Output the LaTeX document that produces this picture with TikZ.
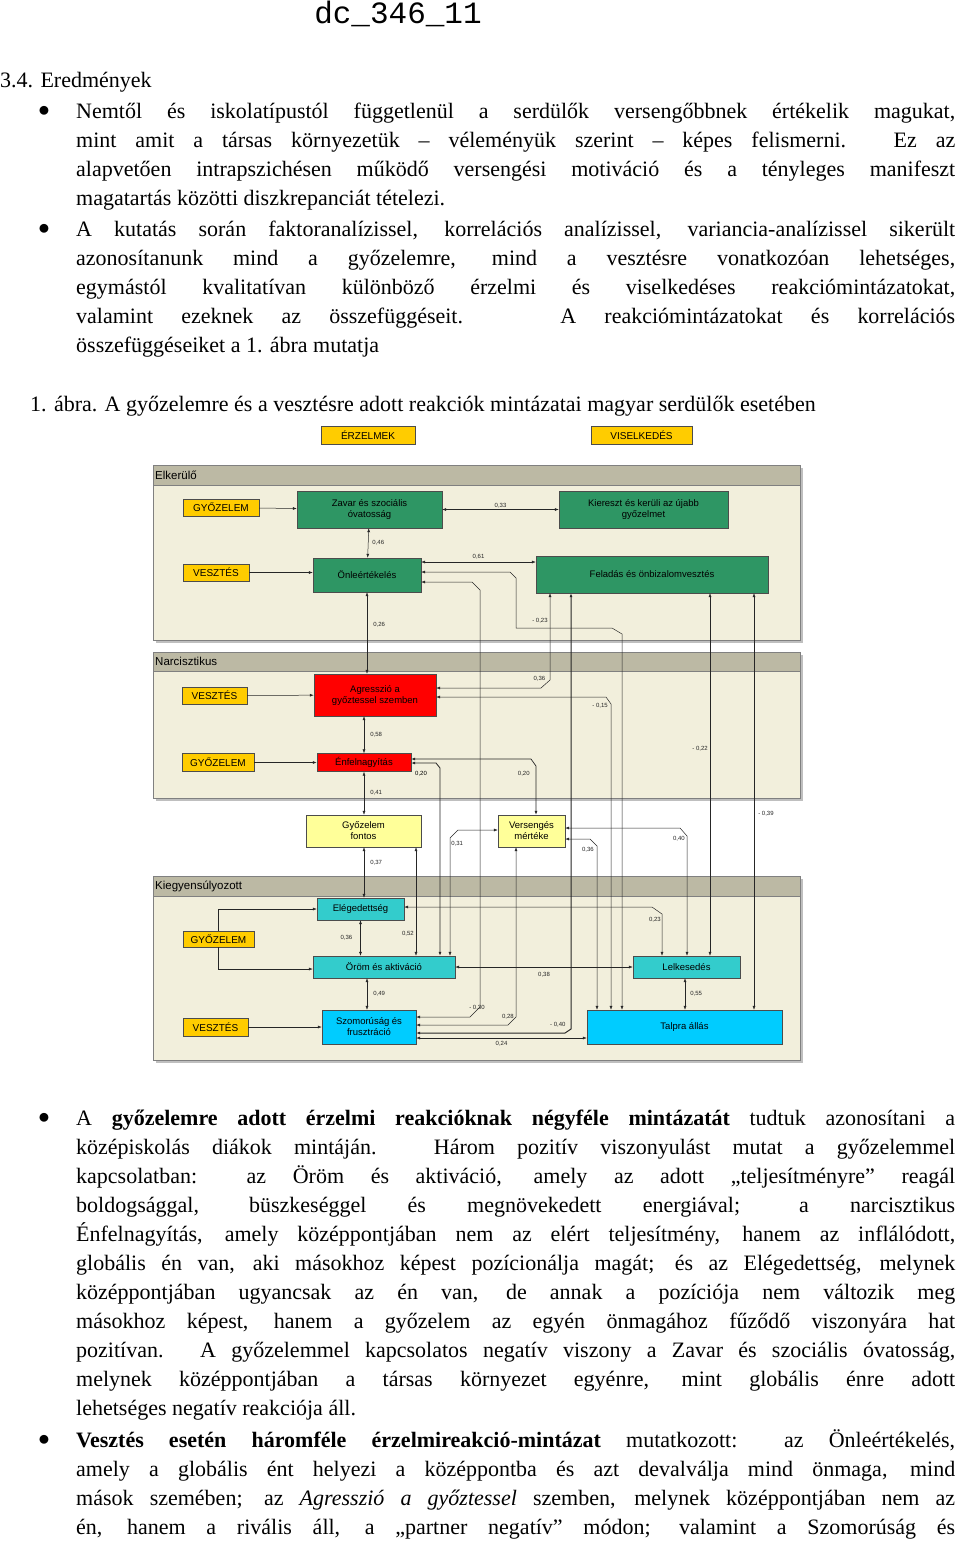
\documentclass[tikz,border=0pt]{standalone}
\usepackage{fontspec}
\setmainfont{Liberation Serif}
\setsansfont{Liberation Sans}
\newfontfamily\monofont{Liberation Mono}
\usetikzlibrary{arrows.meta, positioning, calc}
\definecolor{taggold}{RGB}{255, 204, 0}
\definecolor{boxgreen}{RGB}{46, 150, 100}
\definecolor{boxred}{RGB}{255, 0, 0}
\definecolor{boxyellow}{RGB}{255, 255, 153}
\definecolor{boxteal}{RGB}{51, 204, 204}
\definecolor{boxcyan}{RGB}{0, 204, 255}
\definecolor{panelbg}{RGB}{242, 239, 220}
\definecolor{panelbar}{RGB}{188, 185, 164}
\newcommand\jl[2]{\node[anchor=base west, inner sep=0] at (76,#1) {\makebox[879pt][s]{#2}};}
\newcommand\lft[2]{\node[anchor=base west, inner sep=0] at (76,#1) {#2};}
\newcommand\bul[1]{\node[inner sep=0] at (44,#1) {\scalebox{1.1}{$\bullet$}};}
\tikzset{
  tag/.style={draw=black!70, fill=taggold, inner sep=0, font=\sffamily\fontsize{10}{11}\selectfont},
  vbox/.style={draw=black!70, inner sep=0, align=center, font=\sffamily\fontsize{9.5}{11}\selectfont},
  lbl/.style={inner sep=0, font=\sffamily\fontsize{6}{7}\selectfont},
  bi/.style={<->, black!85, line width=0.5pt},
  one/.style={->, black!85, line width=0.5pt},
  >={Latex[length=4pt, width=3pt]}
}
\begin{document}
\begin{tikzpicture}[x=1pt, y=-1pt, font=\fontsize{22}{29}\selectfont]
    \useasboundingbox (0,0) rectangle (960,1543);
    \fill[white] (0,0) rectangle (960,1543);

    % Heading
    \node[font=\monofont\fontsize{31}{31}\selectfont] (dc) at (398,14) {dc\_346\_11};
    \node[anchor=base west, inner sep=0] (sec) at (0,87) {3.4. Eredmények};

    % Bullets above the figure
    \bul{111}
    \jl{118}{Nemtől és iskolatípustól függetlenül a serdülők versengőbbnek értékelik magukat,}
    \jl{147}{mint amit a társas környezetük – véleményük szerint – képes felismerni. Ez az}
    \jl{176}{alapvetően intrapszichésen működő versengési motiváció és a tényleges manifeszt}
    \lft{205}{magatartás közötti diszkrepanciát tételezi.}
    \bul{229}
    \jl{236}{A kutatás során faktoranalízissel, korrelációs analízissel, variancia-analízissel sikerült}
    \jl{265}{azonosítanunk mind a győzelemre, mind a vesztésre vonatkozóan lehetséges,}
    \jl{294}{egymástól kvalitatívan különböző érzelmi és viselkedéses reakciómintázatokat,}
    \jl{323}{valamint ezeknek az összefüggéseit. \quad A reakciómintázatokat és korrelációs}
    \lft{352}{összefüggéseiket a 1. ábra mutatja}

    \node[anchor=base west, inner sep=0] (cap) at (30,411) {1. ábra. A győzelemre és a vesztésre adott reakciók mintázatai magyar serdülők esetében};

    % Column headers
    \node[tag, minimum width=94, minimum height=18] (erz) at (368,435) {ÉRZELMEK};
    \node[tag, minimum width=101, minimum height=18] (vis) at (641.5,435) {VISELKEDÉS};

    % Panels
    \foreach \ptop/\pbot/\pbar/\pname in {465/640/485/Elkerülő, 652/798/671/Narcisztikus, 876/1060/896/Kiegyensúlyozott}{
        \fill[black!25] (156,\ptop+3) rectangle (803,\pbot+3);
        \draw[black!50, fill=panelbg] (153,\ptop) rectangle (800,\pbot);
        \draw[black!50, fill=panelbar] (153,\ptop) rectangle (800,\pbar);
        \node[anchor=west, inner sep=0, font=\sffamily\fontsize{11.5}{12}\selectfont] at (155,\ptop/2+\pbar/2) {\pname};
    }

    % Elkerulo
    \node[tag, minimum width=76, minimum height=17] (gy1) at (221,507.5) {GYŐZELEM};
    \node[tag, minimum width=66, minimum height=17] (ve1) at (216,572.5) {VESZTÉS};
    \node[vbox, fill=boxgreen, minimum width=145, minimum height=37] (zav) at (369.5,509.5) {Zavar és szociális\\óvatosság};
    \node[vbox, fill=boxgreen, minimum width=169, minimum height=37] (kie) at (643.5,509.5) {Kiereszt és kerüli az újabb\\győzelmet};
    \node[vbox, fill=boxgreen, minimum width=108, minimum height=34] (onl) at (367,575) {Önleértékelés};
    \node[vbox, fill=boxgreen, minimum width=232, minimum height=37] (fel) at (652,574.5) {Feladás és önbizalomvesztés};

    % Narcisztikus
    \node[tag, minimum width=65, minimum height=17] (ve2) at (214.5,695.5) {VESZTÉS};
    \node[tag, minimum width=72, minimum height=18] (gy2) at (218,762.5) {GYŐZELEM};
    \node[vbox, fill=boxred, minimum width=122, minimum height=42] (agr) at (375,695) {Agresszió a\\győztessel szemben};
    \node[vbox, fill=boxred, minimum width=94, minimum height=18] (enf) at (364,762.5) {Énfelnagyítás};

    % Between the panels
    \node[vbox, fill=boxyellow, minimum width=115, minimum height=32] (gyf) at (363.5,831) {Győzelem\\fontos};
    \node[vbox, fill=boxyellow, minimum width=67, minimum height=32] (ver) at (531.5,831) {Versengés\\mértéke};

    % Kiegyensulyozott
    \node[tag, minimum width=71, minimum height=16] (gy3) at (218.5,939) {GYŐZELEM};
    \node[tag, minimum width=65, minimum height=18] (ve3) at (215.5,1027) {VESZTÉS};
    \node[vbox, fill=boxteal, minimum width=87, minimum height=22] (ele) at (360.5,909) {Elégedettség};
    \node[vbox, fill=boxteal, minimum width=142, minimum height=22] (oro) at (384,967) {Öröm és aktiváció};
    \node[vbox, fill=boxteal, minimum width=107, minimum height=22] (lel) at (686.5,967) {Lelkesedés};
    \node[vbox, fill=boxcyan, minimum width=94, minimum height=34] (szo) at (369,1027) {Szomorúság és\\frusztráció};
    \node[vbox, fill=boxcyan, minimum width=195, minimum height=34] (tal) at (684.5,1027) {Talpra állás};

    % Connectors, Elkerulo
    \draw[one] (gy1) -- (zav);
    \draw[one] (ve1) -- (ve1 -| onl.west);
    \draw[bi] (zav) -- node[lbl, above=1pt] {0,33} (kie);
    \draw[bi] (zav) -- node[lbl, right=4pt] {0,46} (onl);
    \draw[bi] (onl.east |- 0,562) -- node[lbl, above=2pt] {0,61} (fel.west |- 0,562);
    \draw[bi] (onl.south) -- node[lbl, pos=0.4, right=6pt] {0,26} (agr.north -| onl.south);
    \draw[bi] (onl.east |- 0,572) -- (510,572) -- (516,578) -- (516,628) -- node[lbl, pos=0.25, above=4pt] {- 0,23} (612,628) -- (622,634) -- (tal.north -| 622,0);
    \draw[bi] (onl.east |- 0,582) -- (472,582) -- (480,590) -- (480,1007) -- node[lbl, above right=1pt and -6pt] {- 0,30} (470,1017) -- (szo.east |- 0,1017);

    % Connectors from Feladas
    \draw[bi] (fel.south -| 550,0) -- (550,680) -- node[lbl, above left=2pt and 0pt] {0,36} (541,688) -- (agr.east |- 0,688);
    \draw[bi, line width=1pt] (fel.south -| 571,0) -- (571,1029) -- node[lbl, above left=3pt and 2pt] {- 0,40} (565,1033) -- (szo.east |- 0,1033);
    \draw[bi] (fel.south -| 710,0) -- node[lbl, pos=0.43, left=2pt] {- 0,22} (lel.north -| 710,0);
    \draw[bi] (fel.south -| 754,0) -- node[lbl, pos=0.53, right=4pt] {- 0,39} (tal.north -| 754,0);

    % Connectors, Narcisztikus
    \draw[one] (ve2) -- (agr);
    \draw[one, line width=0.7pt] (gy2) -- (enf);
    \draw[bi] (agr.south -| 364,0) -- node[lbl, right=6pt] {0,58} (enf.north -| 364,0);
    \draw[bi] (agr.east |- 0,697) -- (606,697) -- (611,704) -- node[lbl, pos=0.005, left=3pt] {- 0,15} (tal.north -| 611,0);
    \draw[bi, line width=0.7pt] (enf.east |- 0,759) -- (531,759) -- (536,766) -- node[lbl, pos=0.15, left=6pt] {0,20} (ver.north -| 536,0);
    \draw[bi, line width=0.8pt] (enf.east |- 0,763) -- (436,763) -- (440,768) -- (oro.north -| 440,0);
    \node[lbl] (l20) at (421,774) {0,20};
    \draw[bi] (enf.south -| 364,0) -- node[lbl, right=6pt] {0,41} (gyf.north -| 364,0);

    % Connectors from Versengés and Győzelem fontos
    \draw[bi] (oro.north -| 450,0) -- (450,838) -- node[lbl, pos=0, below right=3pt and 1pt] {0,31} (458,830) -- (ver.west |- 0,830);
    \draw[bi] (ver.east |- 0,828) -- (680,828) -- (687,836) -- node[lbl, pos=0.02, left=2pt] {0,40} (lel.north -| 687,0);
    \draw[bi] (ver.east |- 0,839) -- (590,839) -- (597,846) -- node[lbl, pos=0.02, left=3pt] {0,36} (tal.north -| 597,0);
    \draw[bi] (ver.south -| 516,0) -- (516,1017) -- node[lbl, above left=1pt and -2pt] {0,28} (508,1025) -- (szo.east |- 0,1025);
    \draw[bi] (gyf.south -| 364,0) -- node[lbl, pos=0.3, right=6pt] {0,37} (ele.north -| 364,0);
    \draw[bi] (gyf.south -| 416,0) -- node[lbl, pos=0.8, left=2pt] {0,52} (oro.north -| 416,0);

    % Connectors, Kiegyensulyozott
    \draw[one] (gy3.north -| 218,0) -- (218,909) -- (ele.west);
    \draw[one] (gy3.south -| 218,0) -- (218,969) -- (oro.west |- 0,969);
    \draw[one] (ve3) -- (ve3 -| szo.west);
    \draw[bi] (ele.south) -- node[lbl, left=8pt] {0,36} (oro.north -| ele.south);
    \draw[bi] (ele.east |- 0,907) -- (652,907) -- (662,914) -- node[lbl, pos=0.15, left=1pt] {0,23} (lel.north -| 662,0);
    \draw[bi] (oro) -- node[lbl, below=5pt] {0,38} (lel);
    \draw[bi] (lel.south -| 685,0) -- node[lbl, right=5pt] {0,55} (tal.north -| 685,0);
    \draw[bi] (oro.south -| 367,0) -- node[lbl, right=6pt] {0,49} (szo.north -| 367,0);
    \draw[bi] (szo.east |- 0,1038) -- node[lbl, below=3pt] {0,24} (tal.west |- 0,1038);

    % Bullets below the figure
    \bul{1118}
    \jl{1125}{A \textbf{győzelemre adott érzelmi reakcióknak négyféle mintázatát} tudtuk azonosítani a}
    \jl{1154}{középiskolás diákok mintáján. Három pozitív viszonyulást mutat a győzelemmel}
    \jl{1183}{kapcsolatban: az Öröm és aktiváció, amely az adott „teljesítményre” reagál}
    \jl{1212}{boldogsággal, büszkeséggel és megnövekedett energiával; a narcisztikus}
    \jl{1241}{Énfelnagyítás, amely középpontjában nem az elért teljesítmény, hanem az inflálódott,}
    \jl{1270}{globális én van, aki másokhoz képest pozícionálja magát; és az Elégedettség, melynek}
    \jl{1299}{középpontjában ugyancsak az én van, de annak a pozíciója nem változik meg}
    \jl{1328}{másokhoz képest, hanem a győzelem az egyén önmagához fűződő viszonyára hat}
    \jl{1357}{pozitívan. A győzelemmel kapcsolatos negatív viszony a Zavar és szociális óvatosság,}
    \jl{1386}{melynek középpontjában a társas környezet egyénre, mint globális énre adott}
    \lft{1415}{lehetséges negatív reakciója áll.}
    \bul{1440}
    \jl{1447}{\textbf{Vesztés esetén háromféle érzelmireakció-mintázat} mutatkozott: az Önleértékelés,}
    \jl{1476}{amely a globális ént helyezi a középpontba és azt devalválja mind önmaga, mind}
    \jl{1505}{mások szemében; az \textit{Agresszió a győztessel} szemben, melynek középpontjában nem az}
    \jl{1534}{én, hanem a rivális áll, a „partner negatív” módon; valamint a Szomorúság és}
\end{tikzpicture}
\end{document}
